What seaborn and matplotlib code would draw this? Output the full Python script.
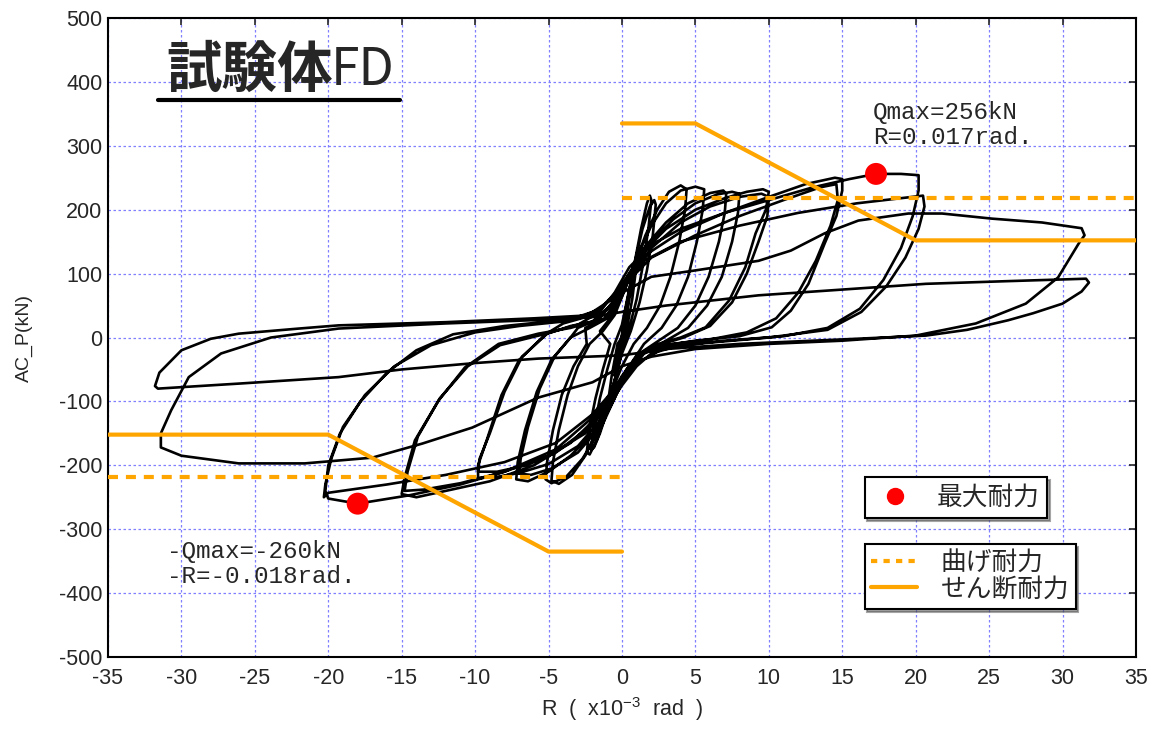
import numpy as np
import pandas as pd
import matplotlib
matplotlib.use("Agg")
import matplotlib.pyplot as plt
from matplotlib.lines import Line2D
import seaborn as sns

# hysteresis record (R x10^-3 rad, Q kN)
loop_01 = [(0, 0), (0.3, 50), (0.5, 70), (0.3, 30), (0, -10), (-0.3, -45), (-0.5, -60), (-0.3, -25), (0, 5),
           (0.5, 60), (1.0, 115), (0.7, 60), (0.3, 10), (-0.3, -50), (-1.0, -110), (-0.7, -60), (-0.3, -10), (0, 0)]
loop_03 = [(0.3, 50), (0.8, 110), (1.3, 170), (1.7, 210), (1.9, 222), (2.0, 215),
           (1.8, 170), (1.4, 110), (1.0, 60), (0.5, 15), (0, -20),
           (-0.5, -70), (-1.0, -115), (-1.5, -150), (-1.9, -172), (-2.1, -175),
           (-1.9, -140), (-1.5, -95), (-1.0, -50), (-0.5, -10), (0, 20)]
loop_04 = [(0.4, 65), (0.9, 120), (1.4, 170), (1.9, 205), (2.2, 215), (2.3, 208),
           (2.1, 160), (1.7, 105), (1.2, 55), (0.6, 10), (0, -25),
           (-0.6, -75), (-1.1, -120), (-1.7, -160), (-2.2, -183), (-2.4, -180),
           (-2.2, -140), (-1.8, -95), (-1.3, -50), (-0.8, -10), (-1.5, 10)]
loop_05 = [(-0.8, 30), (0, 65), (0.8, 110), (1.6, 160), (2.4, 200), (3.2, 228), (4.0, 238), (4.4, 232),
           (4.3, 200), (3.9, 150), (3.3, 95), (2.6, 50), (1.7, 15), (0.8, -10),
           (0, -45), (-0.8, -90), (-1.6, -140), (-2.5, -185), (-3.4, -215), (-4.3, -229), (-4.8, -224),
           (-4.7, -195), (-4.3, -145), (-3.7, -90), (-3.0, -45), (-2.2, -10), (-1.3, 10)]
loop_06 = [(-0.5, 35), (0.2, 75), (1.0, 125), (2.0, 175), (3.0, 210), (4.0, 230), (5.0, 236), (5.6, 232),
           (5.5, 200), (5.1, 150), (4.5, 95), (3.7, 50), (2.7, 15), (1.5, -10),
           (0.5, -45), (-0.5, -95), (-1.5, -145), (-2.7, -190), (-3.8, -218), (-4.8, -228), (-5.2, -222),
           (-5.1, -195), (-4.7, -145), (-4.1, -90), (-3.3, -45), (-2.4, -10), (-2.5, 15)]
loop_07 = [(-1.2, 30), (-0.3, 60), (0.5, 100), (1.5, 140), (3.0, 180), (4.5, 210), (6.0, 226), (6.9, 230), (7.1, 225),
           (7.0, 195), (6.6, 150), (5.9, 95), (5.0, 50), (3.8, 15), (2.5, -5), (1.2, -25),
           (0.3, -55), (-0.5, -95), (-1.5, -140), (-3.0, -180), (-4.8, -205), (-6.2, -215), (-7.0, -213),
           (-6.9, -190), (-6.4, -140), (-5.6, -80), (-4.6, -30), (-3.5, 0), (-2.2, 15)]
loop_08 = [(-1.0, 30), (-0.2, 65), (0.7, 105), (2.0, 150), (3.5, 185), (5.0, 210), (6.5, 224), (7.5, 228), (8.0, 225),
           (7.9, 195), (7.5, 150), (6.8, 95), (5.8, 50), (4.5, 15), (3.0, -5), (1.5, -25),
           (0.3, -60), (-0.7, -100), (-2.0, -150), (-3.5, -185), (-5.0, -210), (-6.4, -225), (-7.2, -222),
           (-7.1, -195), (-6.6, -145), (-5.8, -85), (-4.8, -35), (-3.5, 0), (-3.0, 15)]
loop_09 = [(-1.5, 30), (-0.5, 60), (0.5, 100), (1.5, 135), (3.0, 170), (5.0, 200), (7.0, 218), (8.5, 228), (9.6, 232), (10.0, 228),
           (9.8, 200), (9.1, 163), (8.4, 110), (7.3, 58), (5.7, 16), (4.0, 0), (2.5, -10), (1.2, -25),
           (0.3, -50), (-0.5, -90), (-1.5, -130), (-3.0, -170), (-5.0, -198), (-7.0, -212), (-8.5, -218), (-9.8, -220),
           (-9.8, -200), (-9.2, -160), (-8.2, -90), (-7.0, -35), (-5.2, 5), (-3.5, 18)]
loop_10 = [(-2.0, 25), (-0.5, 55), (0.5, 95), (2.0, 140), (4.0, 180), (6.0, 205), (8.0, 220), (9.5, 225), (10.0, 220),
           (9.9, 190), (9.3, 150), (8.5, 100), (7.5, 55), (6.0, 18), (4.2, 0), (2.5, -12), (1.0, -30),
           (0, -60), (-1.0, -100), (-2.5, -145), (-4.5, -180), (-6.5, -200), (-8.5, -210), (-9.8, -210),
           (-9.7, -190), (-9.0, -150), (-8.0, -85), (-6.8, -30), (-5.0, 8), (-4.0, 22)]
loop_11 = [(-2.0, 35), (-0.5, 65), (0.5, 100), (2.0, 135), (4.0, 165), (7.0, 195), (10.0, 220), (12.5, 240), (14.5, 250), (15.0, 248),
           (15.0, 230), (14.6, 190), (13.8, 147), (12.7, 84), (11.5, 42), (10.2, 16), (8.0, 2), (5.0, -5), (3.0, -12), (1.5, -25),
           (0.5, -50), (-0.5, -85), (-1.5, -120), (-3.5, -165), (-6.0, -200), (-9.0, -225), (-12.0, -240), (-14.0, -250), (-15.0, -245),
           (-14.8, -219), (-14.1, -161), (-12.5, -99), (-10.7, -47), (-8.4, -10), (-5.7, 6), (-3.5, 15)]
loop_12 = [(-2.0, 25), (-0.5, 55), (0.5, 90), (2.0, 125), (5.0, 160), (8.0, 190), (11.0, 215), (13.5, 235), (14.6, 240),
           (14.7, 215), (14.2, 175), (13.2, 120), (12.0, 70), (10.5, 30), (8.5, 8), (6.0, -3), (3.5, -10), (1.5, -22),
           (0.5, -45), (-0.5, -80), (-2.0, -125), (-4.5, -175), (-8.0, -210), (-11.0, -228), (-13.5, -238), (-14.8, -240),
           (-14.6, -210), (-13.9, -155), (-12.4, -95), (-10.5, -45), (-8.3, -12), (-5.5, 4), (-3.0, 20)]
loop_13 = [(-1.5, 40), (-0.5, 70), (0.5, 110), (2.0, 145), (4.0, 170), (7.0, 195), (10.0, 215), (13.0, 235), (15.5, 248), (17.3, 256), (19.0, 256), (20.2, 254),
           (20.2, 230), (19.8, 190), (19.0, 140), (17.8, 90), (16.2, 45), (14.0, 15), (11.0, 2), (7.0, -5), (4.0, -12), (2.0, -25),
           (1.0, -45), (0, -75), (-1.0, -110), (-2.5, -150), (-5.0, -185), (-8.0, -210), (-11.0, -230), (-14.5, -247), (-18.0, -260), (-20.0, -252),
           (-20.2, -240), (-20.0, -200), (-19.2, -150), (-17.8, -100), (-16.0, -55), (-14.0, -20), (-11.5, 5), (-8.0, 18), (-5.0, 25)]
loop_14 = [(-3.0, 30), (-1.5, 45), (0, 80), (1.5, 120), (4.0, 150), (8.0, 175), (12.0, 195), (16.0, 210), (19.0, 218), (20.5, 222),
           (20.6, 205), (20.2, 170), (19.3, 125), (18.0, 80), (16.3, 40), (14.0, 12), (10.0, 0), (6.0, -8), (3.0, -15),
           (1.0, -40), (-0.5, -80), (-2.0, -120), (-4.5, -165), (-8.0, -195), (-12.0, -215), (-16.0, -230), (-20.0, -243), (-20.3, -250),
           (-20.2, -230), (-19.8, -190), (-19.0, -140), (-17.5, -90), (-15.5, -45), (-13.0, -12), (-10.0, 8), (-7.0, 18)]
loop_15 = [(-4.0, 25), (-2.0, 40), (0, 70), (2.0, 95), (5.0, 105), (9.3, 120), (11.5, 136), (13.8, 163), (16.1, 183), (19.5, 194),
           (21.8, 194), (25.2, 186), (28.6, 180), (31.3, 171), (31.5, 160),
           (31.1, 147), (29.7, 94), (27.5, 53), (24.1, 22), (20.0, 3), (15.0, -5), (10.0, -10), (5.0, -18), (2.0, -30),
           (0, -45), (-2.0, -70), (-5.7, -94), (-10.2, -141), (-13.6, -166), (-17.0, -188), (-21.6, -197), (-26.1, -197), (-30.0, -185), (-31.4, -172),
           (-31.4, -150), (-30.7, -114), (-29.5, -62), (-27.3, -25), (-23.9, 0), (-19.3, 14), (-12.0, 22), (-5.0, 28)]
loop_16 = [(-2.0, 32), (0, 40), (3.0, 50), (9.3, 66), (15.0, 75), (20.7, 84), (26.0, 88), (31.6, 92), (31.8, 86),
           (31.3, 72), (30.0, 53), (28.0, 38), (26.3, 27), (23.5, 12), (20.7, 3), (15.0, -3), (8.0, -10), (3.0, -18),
           (0, -28), (-5.7, -33), (-10.0, -40), (-15.0, -50), (-19.3, -62), (-26.0, -72), (-31.6, -80), (-31.8, -76),
           (-31.5, -55), (-30.0, -20), (-28.0, -2), (-26.1, 6), (-22.0, 14), (-19.3, 19), (-12.0, 24), (-6.0, 30), (-2.0, 35)]

loops = [loop_01, loop_03, loop_04, loop_05, loop_06, loop_07, loop_08, loop_09,
         loop_10, loop_11, loop_12, loop_13, loop_14, loop_15, loop_16]

# capacity lines
flex_R_pos = [0, 35]
flex_Q_pos = [218, 218]
flex_R_neg = [-35, 0]
flex_Q_neg = [-218, -218]
shear_R_pos = [0, 5, 20, 35]
shear_Q_pos = [335, 335, 152, 152]
shear_R_neg = [-35, -20, -5, 0]
shear_Q_neg = [-152, -152, -335, -335]

# maximum strength points
max_R = [17.3, -18.0]
max_Q = [256, -260]

pts = [p for lp in loops for p in lp]
df = pd.DataFrame(pts, columns=["R", "Q"])

sns.set_style("white")
plt.rcParams["font.family"] = ["Liberation Sans", "Noto Sans CJK JP", "DejaVu Sans"]
plt.rcParams["axes.unicode_minus"] = False
plt.rcParams["mathtext.default"] = "regular"

fig = plt.figure(figsize=(11.55, 7.31), dpi=100)
ax = fig.add_axes([0.0935, 0.1012, 0.8900, 0.8742])

grid_c = "#7f7fff"
ax.set_xlim(-35, 35)
ax.set_ylim(-500, 500)
ax.set_xticks(np.arange(-35, 36, 5))
ax.set_yticks(np.arange(-500, 501, 100))
ax.grid(True, color=grid_c, linestyle=(0, (2, 2)), linewidth=0.9)
ax.set_axisbelow(True)

sns.lineplot(data=df, x="R", y="Q", sort=False, estimator=None, color="black",
             linewidth=1.9, ax=ax, zorder=3)

orange = "#ffa500"
for rr, qq in [(flex_R_pos, flex_Q_pos), (flex_R_neg, flex_Q_neg)]:
    ax.plot(rr, qq, color=orange, linewidth=3, linestyle=(0, (2.4, 1.9)), zorder=4)
for rr, qq in [(shear_R_pos, shear_Q_pos), (shear_R_neg, shear_Q_neg)]:
    ax.plot(rr, qq, color=orange, linewidth=3, zorder=4)

sns.scatterplot(x=max_R, y=max_Q, color="red", s=250, edgecolor="none", ax=ax, zorder=5)

for side in ["left", "right", "top", "bottom"]:
    ax.spines[side].set_linewidth(1.5)
    ax.spines[side].set_color("black")
ax.tick_params(axis="both", direction="in", length=5, width=1.2, labelsize=15.5,
               top=True, right=True, pad=4)
ax.tick_params(axis="x", pad=8)

ax.set_xlabel("R  (  x10$^{-3}$  rad  )", fontsize=15.5, labelpad=4)
ax.set_ylabel("AC_P(kN)", fontsize=14, labelpad=19)

jp = ["Noto Sans CJK JP", "DejaVu Sans"]
ax.text(-31.0, 418, "試験体", fontsize=40, fontweight="bold", ha="left", va="center",
        family=jp, zorder=6)
ax.text(-19.8, 418, "FD", fontsize=37, ha="left", va="center",
        family=jp, zorder=6)
ax.add_line(Line2D([0.0486, 0.284], [0.8717, 0.8717], transform=ax.transAxes,
                   color="black", linewidth=3, zorder=6))

mono = ["Liberation Mono", "DejaVu Sans Mono"]
ax.text(17.1, 333, "Qmax=256kN\nR=0.017rad.", fontsize=17.5, ha="left", va="center",
        family=mono, linespacing=1.1, zorder=6)
ax.text(-31.0, -355, "-Qmax=-260kN\n-R=-0.018rad.", fontsize=17.5, ha="left", va="center",
        family=mono, linespacing=1.1, zorder=6)

h1 = [Line2D([], [], marker="o", color="red", linestyle="none", markersize=11.5)]
leg1 = ax.legend(h1, ["最大耐力"], loc="upper left", bbox_to_anchor=(0.736, 0.282),
                 frameon=True, fancybox=False, shadow=True, prop={"family": jp, "size": 18.5},
                 handlelength=1.8, handletextpad=0.7, borderpad=0.3, borderaxespad=0)
leg1.get_frame().set_edgecolor("black")
leg1.get_frame().set_linewidth(1.5)
ax.add_artist(leg1)

h2 = [Line2D([], [], color=orange, linewidth=3, linestyle=(0, (1.5, 1.5))),
      Line2D([], [], color=orange, linewidth=3)]
leg2 = ax.legend(h2, ["曲げ耐力", "せん断耐力"], loc="upper left", bbox_to_anchor=(0.736, 0.177),
                 frameon=True, fancybox=False, shadow=True, prop={"family": jp, "size": 18.5},
                 handlelength=1.8, handletextpad=0.9, borderpad=0.25, labelspacing=0.0,
                 borderaxespad=0)
leg2.get_frame().set_edgecolor("black")
leg2.get_frame().set_linewidth(1.5)

fig.savefig("out.png", dpi=100)
